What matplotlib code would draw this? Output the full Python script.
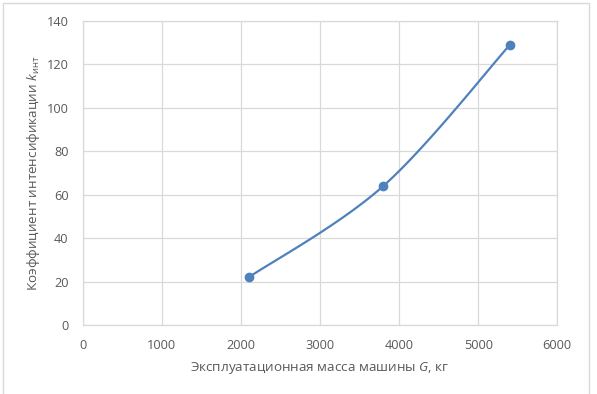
import numpy as np
import matplotlib
matplotlib.use("Agg")
import matplotlib.pyplot as plt
from matplotlib.patches import Rectangle

# data
mass_kg = [2100, 3800, 5400]
k_int = [22, 64, 129]

x_ticks = [0, 1000, 2000, 3000, 4000, 5000, 6000]
y_ticks = [0, 20, 40, 60, 80, 100, 120, 140]

x_label = "Эксплуатационная масса машины $\\mathit{G}$, кг"
y_label = "Коэффициент интенсификации $\\mathit{k}_{\\mathrm{инт}}$"

line_color = "#4F81BD"
grid_color = "#D9D9D9"
text_color = "#595959"

plt.rcParams["font.family"] = ["Open Sans", "DejaVu Sans"]
plt.rcParams["mathtext.fontset"] = "custom"
plt.rcParams["mathtext.rm"] = "Open Sans"
plt.rcParams["mathtext.it"] = "Open Sans:italic"

W, H = 597, 394
fig = plt.figure(figsize=(W / 100, H / 100), dpi=100)
ax = fig.add_axes([82.7 / W, (H - 325) / H, (557.3 - 82.7) / W, (325 - 21) / H])

# chart border like Excel
fig.patches.append(Rectangle((3 / W, -0.05), 586 / W, (H - 3) / H + 0.05,
                             transform=fig.transFigure, fill=False,
                             edgecolor=grid_color, linewidth=1))

ax.set_xlim(x_ticks[0], x_ticks[-1])
ax.set_ylim(y_ticks[0], y_ticks[-1])
ax.set_xticks(x_ticks)
ax.set_yticks(y_ticks)
ax.grid(True, color=grid_color, linewidth=0.9)
ax.set_axisbelow(True)
for s in ax.spines.values():
    s.set_color(grid_color)
    s.set_linewidth(0.9)
ax.tick_params(length=0, labelsize=9.2, labelcolor=text_color, pad=10.2)

# Excel-style smoothed line: Bezier segments built in display space
pts = ax.transData.transform(np.column_stack([mass_kg, k_int]))
ext = np.vstack([pts[0], pts, pts[-1]])
curve = []
t = np.linspace(0, 1, 60)[:, None]
for i in range(len(pts) - 1):
    p0 = ext[i + 1]
    p3 = ext[i + 2]
    c1 = p0 + (ext[i + 2] - ext[i]) / 6
    c2 = p3 - (ext[i + 3] - ext[i + 1]) / 6
    seg = ((1 - t) ** 3) * p0 + 3 * ((1 - t) ** 2) * t * c1 + 3 * (1 - t) * t ** 2 * c2 + t ** 3 * p3
    curve.append(seg)
curve = ax.transData.inverted().transform(np.vstack(curve))
ax.plot(curve[:, 0], curve[:, 1], color=line_color, linewidth=1.6, solid_capstyle="round")
ax.plot(mass_kg, k_int, "o", color=line_color, markersize=6)

ax.set_xlabel(x_label, fontsize=9.7, color=text_color, labelpad=5.5)
ax.set_ylabel(y_label, fontsize=9.7, color=text_color, labelpad=3.5)

fig.savefig("out.png", dpi=100)
